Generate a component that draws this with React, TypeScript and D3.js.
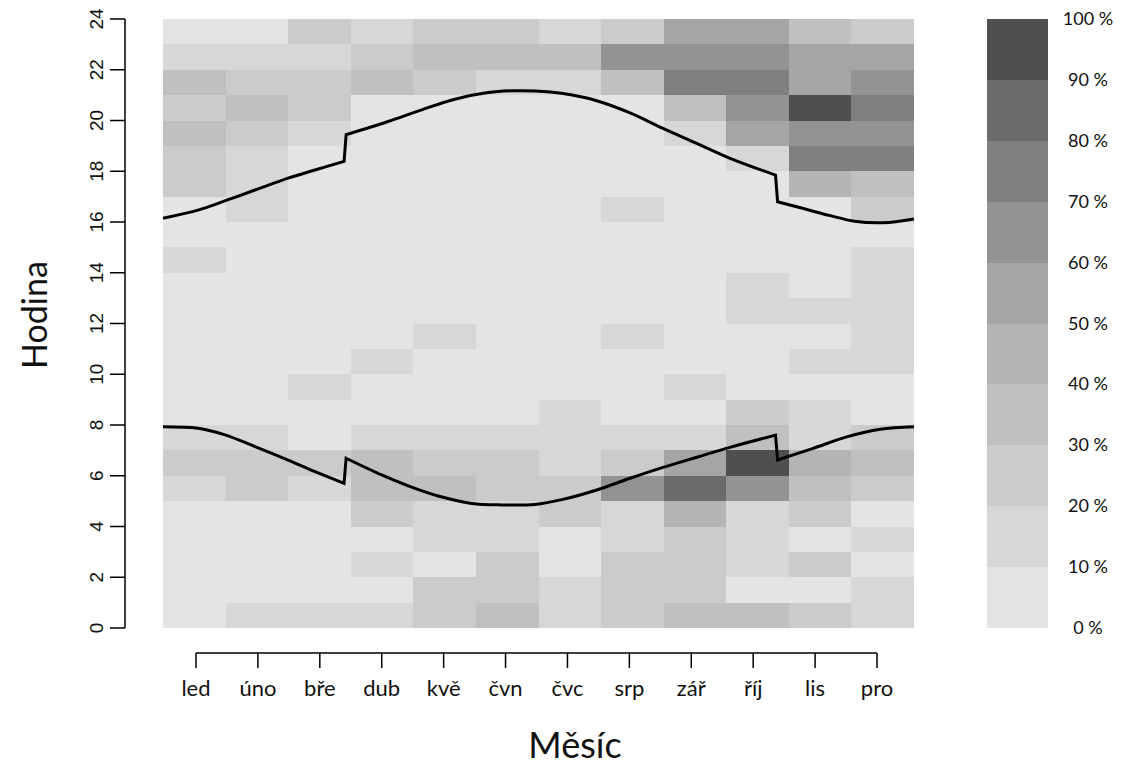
import React from "react";
import * as d3 from "d3";

const months = ["led", "úno", "bře", "dub", "kvě", "čvn", "čvc", "srp", "zář", "říj", "lis", "pro"];
const hourTicks = [0, 2, 4, 6, 8, 10, 12, 14, 16, 18, 20, 22, 24];
const legendTicks = [0, 10, 20, 30, 40, 50, 60, 70, 80, 90, 100];
const legendColors = ["#e4e4e6", "#d7d7d9", "#cbcbcb", "#c0c0c0", "#b4b4b4", "#a5a5a5", "#939393", "#7f7f7f", "#6b6b6b", "#4f4f4f"];

// share (%) per hour (row 0 = hour 0) and month
const shareByHour = [
  [5, 15, 15, 15, 25, 35, 15, 25, 35, 35, 25, 15],
  [5, 5, 5, 5, 25, 25, 15, 25, 25, 5, 5, 15],
  [5, 5, 5, 15, 5, 25, 5, 25, 25, 15, 25, 5],
  [5, 5, 5, 5, 15, 15, 5, 15, 25, 15, 5, 15],
  [5, 5, 5, 25, 15, 15, 25, 15, 45, 15, 25, 5],
  [15, 25, 15, 35, 35, 25, 25, 65, 85, 65, 35, 25],
  [25, 25, 25, 35, 25, 25, 15, 25, 55, 95, 45, 35],
  [15, 15, 5, 15, 15, 15, 15, 15, 15, 35, 15, 25],
  [5, 5, 5, 5, 5, 5, 15, 5, 5, 25, 15, 5],
  [5, 5, 15, 5, 5, 5, 5, 5, 15, 5, 5, 5],
  [5, 5, 5, 15, 5, 5, 5, 5, 5, 5, 15, 15],
  [5, 5, 5, 5, 15, 5, 5, 15, 5, 5, 5, 15],
  [5, 5, 5, 5, 5, 5, 5, 5, 5, 15, 15, 15],
  [5, 5, 5, 5, 5, 5, 5, 5, 5, 15, 5, 15],
  [15, 5, 5, 5, 5, 5, 5, 5, 5, 5, 5, 15],
  [5, 5, 5, 5, 5, 5, 5, 5, 5, 5, 5, 5],
  [5, 15, 5, 5, 5, 5, 5, 15, 5, 5, 5, 25],
  [25, 15, 5, 5, 5, 5, 5, 5, 5, 5, 45, 35],
  [25, 15, 5, 5, 5, 5, 5, 5, 5, 15, 75, 75],
  [35, 25, 15, 5, 5, 5, 5, 5, 15, 55, 65, 65],
  [25, 35, 25, 5, 5, 5, 5, 5, 35, 65, 95, 75],
  [35, 25, 25, 35, 25, 15, 15, 35, 75, 75, 55, 65],
  [15, 15, 15, 25, 35, 35, 35, 65, 65, 65, 55, 55],
  [5, 5, 25, 15, 25, 25, 15, 25, 55, 55, 35, 25],
];

// sunset / sunrise (hour) by day of year
const sunsetDay = [0, 17, 31, 44.7, 60.8, 73.9, 88, 89, 109.4, 125.7, 141.9, 158, 169.5, 180.8, 194.4, 210.8, 227, 243, 259.4, 275.6, 297.7, 298.7, 308, 324.3, 336, 350, 365];
const sunsetHour = [16.15, 16.47, 16.86, 17.26, 17.73, 18.05, 18.39, 19.44, 19.96, 20.42, 20.84, 21.1, 21.17, 21.16, 21.06, 20.78, 20.3, 19.69, 19.1, 18.51, 17.85, 16.8, 16.6, 16.25, 16.03, 15.97, 16.12];
const sunriseDay = [0, 17, 30.1, 44.7, 60.8, 73.9, 88, 89, 106.3, 119.2, 133.8, 150, 164.6, 180.8, 194.4, 210.8, 227, 243, 259.4, 275.6, 297.7, 298.7, 316, 332.3, 348.5, 365];
const sunriseHour = [7.93, 7.87, 7.61, 7.15, 6.62, 6.16, 5.7, 6.69, 6.03, 5.6, 5.2, 4.91, 4.85, 4.87, 5.07, 5.44, 5.9, 6.33, 6.73, 7.12, 7.6, 6.62, 7.08, 7.53, 7.83, 7.93];

export default function App() {
  const W = 1125, H = 777;
  const left = 163, right = 914, top = 19, bottom = 628;
  const xBand = d3.scaleBand<string>().domain(months).range([left, right]).paddingInner(0);
  const xDay = d3.scaleLinear().domain([0, 365]).range([left, right]);
  const y = d3.scaleLinear().domain([0, 24]).range([bottom, top]);
  const xTick = d3.scalePoint<string>().domain(months).range([196, 877]);
  const color = d3.scaleThreshold<number, string>().domain([10, 20, 30, 40, 50, 60, 70, 80, 90]).range(legendColors);
  const yLeg = d3.scaleLinear().domain([0, 100]).range([bottom, top]);

  const line = d3
    .line<[number, number]>()
    .x((d) => xDay(d[0]))
    .y((d) => y(d[1]))
    .curve(d3.curveCatmullRom.alpha(0.5));

  // split the series at the daylight-saving jumps (consecutive days) and join with straight steps
  const pathFor = (days: number[], hours: number[]) => {
    const segs: [number, number][][] = [[]];
    days.forEach((d, i) => {
      if (i > 0 && d - days[i - 1] <= 1.01) segs.push([]);
      segs[segs.length - 1].push([d, hours[i]]);
    });
    return segs.map((s, i) => { const p = line(s) || ""; return i === 0 ? p : p.replace(/^M/, "L"); }).join("");
  };

  const labFont = "Lato, 'Open Sans', sans-serif";
  const axisX = 125;
  const axisY = 653;

  return (
    <svg width={W} height={H} style={{ position: "absolute", left: 0, top: 0, background: "#fff" }}>
      <g shapeRendering="crispEdges">
        {shareByHour.map((row, h) =>
          row.map((v, m) => (
            <rect key={`${h}-${m}`} x={xBand(months[m])} width={xBand.bandwidth()} y={y(h + 1)} height={y(h) - y(h + 1)} fill={color(v)} />
          ))
        )}
      </g>
      <path d={pathFor(sunsetDay, sunsetHour)} fill="none" stroke="#000" strokeWidth={3} strokeLinejoin="miter" />
      <path d={pathFor(sunriseDay, sunriseHour)} fill="none" stroke="#000" strokeWidth={3} strokeLinejoin="miter" />

      {/* y axis */}
      <line x1={axisX} x2={axisX} y1={y(0)} y2={y(24)} stroke="#000" strokeWidth={1.5} />
      {hourTicks.map((t) => (
        <g key={t}>
          <line x1={axisX - 15} x2={axisX} y1={y(t)} y2={y(t)} stroke="#000" strokeWidth={1.5} />
          <text transform={`translate(${axisX - 22},${y(t)}) rotate(-90)`} textAnchor="middle" fontFamily="'Liberation Sans', Arial, sans-serif" fontSize={19} fill="#111">
            {t}
          </text>
        </g>
      ))}
      <text transform={`translate(47,315) rotate(-90)`} textAnchor="middle" fontFamily={labFont} fontSize={34} fill="#111">
        Hodina
      </text>

      {/* x axis */}
      <line x1={xTick(months[0])} x2={xTick(months[11])} y1={axisY} y2={axisY} stroke="#000" strokeWidth={1.5} />
      {months.map((m) => (
        <g key={m}>
          <line x1={xTick(m)} x2={xTick(m)} y1={axisY} y2={axisY + 15} stroke="#000" strokeWidth={1.5} />
          <text x={xTick(m)} y={696} textAnchor="middle" fontFamily={labFont} fontSize={22} fill="#111">
            {m}
          </text>
        </g>
      ))}
      <text x={575} y={758} textAnchor="middle" fontFamily={labFont} fontSize={36} fill="#111">
        Měsíc
      </text>

      {/* legend */}
      <g shapeRendering="crispEdges">
        {legendColors.map((c, i) => (
          <rect key={c} x={987} width={61} y={yLeg((i + 1) * 10)} height={yLeg(i * 10) - yLeg((i + 1) * 10)} fill={c} />
        ))}
      </g>
      {legendTicks.map((t) => (
        <text key={t} x={1088} y={Math.max(yLeg(t), 16) + 6} textAnchor="middle" fontFamily={labFont} fontSize={18} fill="#111">
          {t} %
        </text>
      ))}
    </svg>
  );
}
